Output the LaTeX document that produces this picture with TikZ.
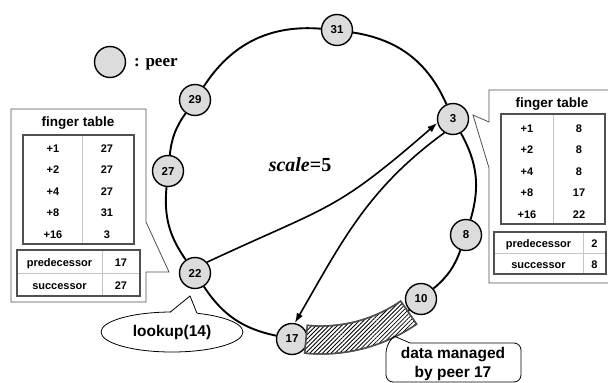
\documentclass[tikz,border=0pt]{standalone}
\usepackage{fontspec}
\setmainfont{Liberation Sans}
\newfontfamily\serifbf{Liberation Serif}
\usetikzlibrary{arrows.meta,patterns.meta,shapes.geometric}

\definecolor{peergray}{HTML}{DCDCDC}
\definecolor{framegray}{HTML}{505050}
\definecolor{rulegray}{HTML}{C4C4C4}

\begin{document}
\begin{tikzpicture}[x=1pt,y=1pt,
  peer/.style={circle,draw=black,line width=1.4pt,fill=peergray,minimum size=31pt,
    inner sep=0pt,font=\fontsize{11.5}{13}\selectfont\bfseries},
  ring/.style={line width=1.9pt},
  hop/.style={line width=1.6pt,-{Latex[length=10pt,width=7pt]}},
  cell/.style={inner sep=0pt,anchor=base,font=\fontsize{11}{13}\selectfont\bfseries},
  tabtitle/.style={inner sep=0pt,anchor=base,font=\fontsize{13.5}{16}\selectfont\bfseries},
  bigtext/.style={inner sep=0pt,font=\fontsize{15.5}{19}\selectfont\bfseries},
  tblframe/.style={draw=framegray,line width=1.3pt},
  tblrule/.style={draw=rulegray,line width=0.8pt},
  callout/.style={draw=framegray,line width=0.8pt,fill=white},
]
\useasboundingbox (0,0) rectangle (608,-383);
\clip (0,0) rectangle (608,-383);

% ---------- callout frames of the two routing tables ----------
\draw[callout] (11,-109) -- (146,-109) -- (146,-222) -- (169,-272) -- (146,-272)
  -- (146,-302) -- (11,-302) -- cycle;
\draw[callout] (489,-90) -- (616,-90) -- (616,-283) -- (489,-283) -- (489,-168)
  -- (473,-115) -- (489,-122) -- cycle;

% ---------- table of peer 22 ----------
\node[tabtitle] (ltitle) at (78,-126.5) {finger table};
\draw[tblrule] (82,-135) -- (82,-244);
\draw[tblframe] (23,-135) rectangle (134,-244);
\foreach \k/\v [count=\i] in {+1/27,+2/27,+4/27,+8/31,+16/3}{
  \node[cell] (lk\i) at (53,{-152-(\i-1)*21.5}) {\k};
  \node[cell] (lv\i) at (107,{-152-(\i-1)*21.5}) {\v};
}
\draw[tblrule] (102,-250) -- (102,-296);
\draw[tblrule] (17,-273) -- (140,-273);
\draw[tblframe] (17,-250) rectangle (140,-296);
\node[cell] (lpred) at (59.5,-266) {predecessor};
\node[cell] (lpredv) at (121,-266) {17};
\node[cell] (lsucc) at (59.5,-289) {successor};
\node[cell] (lsuccv) at (121,-289) {27};

% ---------- table of peer 3 ----------
\node[tabtitle] (rtitle) at (552,-107.5) {finger table};
\draw[tblrule] (553,-114) -- (553,-224);
\draw[tblframe] (501,-114) rectangle (605,-224);
\foreach \k/\v [count=\i] in {+1/8,+2/8,+4/8,+8/17,+16/22}{
  \node[cell] (rk\i) at (527,{-132-(\i-1)*21.5}) {\k};
  \node[cell] (rv\i) at (579,{-132-(\i-1)*21.5}) {\v};
}
\draw[tblrule] (583,-232) -- (583,-274);
\draw[tblrule] (494,-253) -- (606,-253);
\draw[tblframe] (494,-232) rectangle (606,-274);
\node[cell] (rpred) at (538.5,-247) {predecessor};
\node[cell] (rpredv) at (594.5,-247) {2};
\node[cell] (rsucc) at (538.5,-268) {successor};
\node[cell] (rsuccv) at (594.5,-268) {8};

% ---------- legend and scale ----------
\node[peer] (legend) at (110,-62) {};
\node[inner sep=0pt,anchor=base west,font=\serifbf\fontsize{17}{20}\selectfont\bfseries]
  (legendtext) at (134,-66) {: peer};
\node[inner sep=0pt,anchor=base,font=\serifbf\fontsize{20}{24}\selectfont\bfseries]
  (scale) at (300,-171.5) {\itshape scale\upshape=5};

% ---------- peers on the ring ----------
\node[peer] (p31) at (337,-30)  {31};
\node[peer] (p3)  at (453,-119) {3};
\node[peer] (p8)  at (466,-235) {8};
\node[peer] (p10) at (421,-299) {10};
\node[peer] (p17) at (292,-339) {17};
\node[peer] (p22) at (195,-273) {22};
\node[peer] (p27) at (168,-171) {27};
\node[peer] (p29) at (195,-100) {29};

% ring arcs, one per pair of neighbouring peers
\foreach \a/\b/\bend in {p31/p3/28.6, p3/p8/22.8, p8/p10/14.9, p10/p17/26.1,
    p17/p22/22.4, p22/p27/20.1, p27/p29/14.4, p29/p31/30.8}{
  \draw[ring] (\a) to[bend left=\bend] (\b);
}

% ---------- key range stored at peer 17 ----------
\draw[draw=framegray,line width=1.4pt,fill=white] (321,-186) ++(-95.6:140)
  arc[start angle=-95.6,end angle=-55.3,radius=140] -- ++(-55.3:28)
  arc[start angle=-55.3,end angle=-95.6,radius=168] -- cycle;
\path[pattern={Lines[angle=45,distance=3pt,line width=0.8pt]}] (321,-186) ++(-95.6:140)
  arc[start angle=-95.6,end angle=-55.3,radius=140] -- ++(-55.3:28)
  arc[start angle=-55.3,end angle=-95.6,radius=168] -- cycle;
\draw[draw=framegray,line width=1.4pt] (321,-186) ++(-95.6:140)
  arc[start angle=-95.6,end angle=-55.3,radius=140] -- ++(-55.3:28)
  arc[start angle=-55.3,end angle=-95.6,radius=168] -- cycle;

% ---------- lookup route ----------
\draw[hop] (p22.42) to[out=25,in=221,looseness=1.3] (p3.194);
\draw[hop] (p3.238) to[out=216,in=60] (p17.80);

% ---------- lookup bubble ----------
\node[ellipse,draw,line width=0.8pt,minimum width=142pt,minimum height=40pt,inner sep=0pt,
  bigtext] (lookup) at (172,-332) {lookup(14)};
\fill[white] (169,-314) -- (190,-296) -- (198,-315) -- cycle;
\draw[line width=0.8pt] (170,-312.3) -- (190,-296) -- (197,-313.3);

% ---------- note on the stored data ----------
\draw[line width=0.8pt] (394,-336) -- (410,-343) [rounded corners=7pt] -- (521,-343)
  -- (521,-382) -- (386,-382) -- (386,-346) [sharp corners] -- cycle;
\node[bigtext,align=center] (datanote) at (453,-363.5) {data managed\\by peer 17};
\end{tikzpicture}
\end{document}
